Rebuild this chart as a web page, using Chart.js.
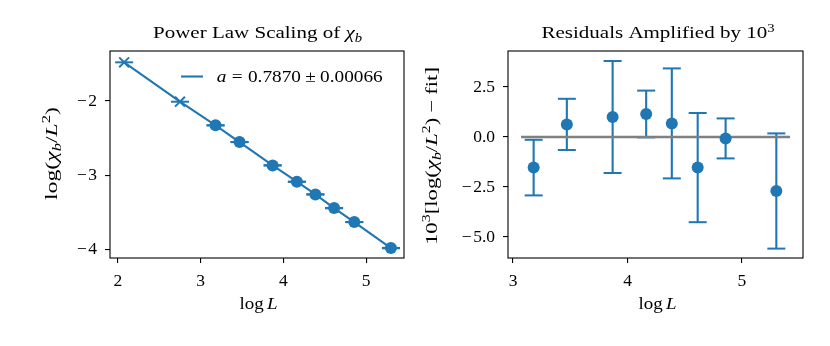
<!DOCTYPE html>
<html>
<head>
<meta charset="utf-8">
<script src="https://cdn.jsdelivr.net/npm/chart.js@4.4.1/dist/chart.umd.min.js"></script>
<style>
  html, body { margin: 0; padding: 0; background: #fff; }
  #wrap { position: relative; width: 830px; height: 346px; overflow: hidden; }
  canvas { position: absolute; top: 0; }
  #c1 { left: 0; }
  #c2 { left: 415px; }
</style>
</head>
<body>
<div id="wrap">
  <canvas id="c1" width="415" height="346"></canvas>
  <canvas id="c2" width="415" height="346"></canvas>
</div>
<script>
// ---------------- data ----------------
const logLExcluded   = [2.075, 2.750];
const logChiExcluded = [-1.477, -2.009];
const logL           = [3.180, 3.470, 3.870, 4.163, 4.387, 4.613, 4.857, 5.300];
const logChi         = [-2.328, -2.554, -2.869, -3.090, -3.261, -3.446, -3.635, -3.986];
const residual       = [-1.53, 0.63, 1.00, 1.15, 0.68, -1.53, -0.07, -2.70];
const residualErr    = [1.39, 1.28, 2.80, 1.17, 2.75, 2.73, 1.00, 2.88];
const fitLineX       = [3.07, 5.42];
const fitLineY       = [0, 0];
const leftXTicks     = [2, 3, 4, 5];
const leftYTicks     = [-4, -3, -2];
const rightXTicks    = [3, 4, 5];
const rightYTicks    = [-5, -2.5, 0, 2.5];

// ---------------- style ----------------
const BLUE = '#1f77b4';
const GRAY = '#808080';
const SERIF = '"Liberation Serif", "DejaVu Serif", serif';
const TICK_SIZE = 17.5;
const LABEL_SIZE = 16.5;
const TITLE_SIZE = 17;

function fmtMinus(s) { return String(s).replace('-', '\u2212\u200a'); }

// rich text: segments [text, flags] (i=italic, b=subscript, p=superscript) or a number = gap in em
function segFont(flags, size) {
  const s = (flags.includes('b') || flags.includes('p')) ? size * 0.7 : size;
  return { font: (flags.includes('i') ? 'italic ' : '') + s.toFixed(2) + 'px ' + SERIF,
           dy: flags.includes('b') ? size * 0.22 : (flags.includes('p') ? -size * 0.4 : 0) };
}
function richWidth(ctx, segs, size) {
  let w = 0;
  for (const seg of segs) {
    if (typeof seg === 'number') { w += seg * size; continue; }
    ctx.font = segFont(seg[1], size).font; w += ctx.measureText(seg[0]).width;
  }
  return w;
}
function drawRich(ctx, segs, x, y, size, align, rotate, targetW) {
  ctx.save();
  ctx.fillStyle = '#000';
  ctx.textBaseline = 'alphabetic';
  ctx.textAlign = 'left';
  ctx.translate(x, y);
  if (rotate) ctx.rotate(-Math.PI / 2);
  const w = richWidth(ctx, segs, size);
  const sx = targetW ? targetW / w : 1;
  ctx.scale(sx, 1);
  let cx = align === 'center' ? -w / 2 : 0;
  for (const seg of segs) {
    if (typeof seg === 'number') { cx += seg * size; continue; }
    const sf = segFont(seg[1], size);
    ctx.font = sf.font;
    ctx.fillText(seg[0], cx, sf.dy);
    cx += ctx.measureText(seg[0]).width;
  }
  ctx.restore();
}

const boxPlugin = {
  id: 'box',
  afterDatasetsDraw(chart) {
    const { ctx, chartArea: a } = chart;
    ctx.save();
    ctx.strokeStyle = '#000';
    ctx.lineWidth = 1.1;
    ctx.strokeRect(a.left, a.top, a.right - a.left, a.bottom - a.top);
    ctx.restore();
  }
};

function linScale(min, max, ticks, fmt, isX, fitSize) {
  return {
    type: 'linear',
    min: min, max: max,
    afterBuildTicks(s) { s.ticks = ticks.map(v => ({ value: v })); },
    afterFit(s) { if (isX) s.height = fitSize; else s.width = fitSize; },
    border: { display: false },
    grid: { display: true, drawOnChartArea: false, drawTicks: true, tickLength: 5, color: '#000', lineWidth: 1.1 },
    ticks: {
      color: '#000',
      font: { family: SERIF, size: TICK_SIZE },
      padding: 8,
      maxRotation: 0,
      autoSkip: false,
      callback: v => fmt(v)
    }
  };
}

// ---------------- left chart ----------------
const leftLinePts = logLExcluded.map((x, i) => ({ x, y: logChiExcluded[i] }))
  .concat(logL.map((x, i) => ({ x, y: logChi[i] })));
const leftCaps = [];
logL.forEach((x, i) => {
  leftCaps.push({ x, y: logChi[i] + residualErr[i] / 1000 });
  leftCaps.push({ x, y: logChi[i] - residualErr[i] / 1000 });
});
logLExcluded.forEach((x, i) => leftCaps.push({ x, y: logChiExcluded[i] }));

const leftText = {
  id: 'leftText',
  afterDraw(chart) {
    const ctx = chart.ctx;
    drawRich(ctx, [['Power Law Scaling of ', ''], ['\u03c7', 'i'], ['b', 'ib']], 257.5, 38.3, TITLE_SIZE, 'center', false, 209);
    drawRich(ctx, [['log', ''], 0.17, ['L', 'i']], 258.5, 308.5, LABEL_SIZE, 'center', false, 38);
    drawRich(ctx, [['log(', ''], ['\u03c7', 'i'], ['b', 'ib'], ['/', ''], ['L', 'i'], ['2', 'p'], [')', '']],
      57, 153.5, LABEL_SIZE, 'center', true, 93);
    // legend
    ctx.save();
    ctx.strokeStyle = BLUE; ctx.lineWidth = 2.1;
    ctx.beginPath(); ctx.moveTo(181, 76.5); ctx.lineTo(203, 76.5); ctx.stroke();
    ctx.restore();
    drawRich(ctx, [['a', 'i'], 0.278, ['=', ''], 0.278, ['0.7870', ''], 0.222, ['\u00b1', ''], 0.222, ['0.00066', '']],
      216.7, 82, LABEL_SIZE, 'left', false, 166);
  }
};

new Chart(document.getElementById('c1'), {
  type: 'scatter',
  data: {
    datasets: [
      { type: 'line', data: leftLinePts, borderColor: BLUE, borderWidth: 2.1, pointRadius: 0, fill: false, order: 4 },
      { data: leftCaps, pointStyle: 'line', pointRadius: 9, pointBorderWidth: 2, pointBorderColor: BLUE, pointBackgroundColor: BLUE, borderColor: BLUE, order: 3 },
      { data: logLExcluded.map((x, i) => ({ x, y: logChiExcluded[i] })), pointStyle: 'crossRot', pointRadius: 7, pointBorderWidth: 2, pointBorderColor: BLUE, borderColor: BLUE, order: 2 },
      { data: logL.map((x, i) => ({ x, y: logChi[i] })), pointStyle: 'circle', pointRadius: 6, pointBorderWidth: 0, pointBackgroundColor: BLUE, backgroundColor: BLUE, borderColor: BLUE, order: 1 }
    ]
  },
  options: {
    responsive: false,
    animation: false,
    events: [],
    devicePixelRatio: 1,
    layout: { padding: { left: 0, top: 51, right: 10, bottom: 0 } },
    plugins: { legend: { display: false }, tooltip: { enabled: false } },
    scales: {
      x: linScale(1.904, 5.458, leftXTicks, v => String(v), true, 88),
      y: linScale(-4.12, -1.324, leftYTicks, v => fmtMinus(v), false, 110)
    }
  },
  plugins: [boxPlugin, leftText]
});

// ---------------- right chart ----------------
const errSegs = [];
logL.forEach((x, i) => {
  errSegs.push({ x, y: residual[i] - residualErr[i] });
  errSegs.push({ x, y: residual[i] + residualErr[i] });
  errSegs.push({ x, y: null });
});
const rightCaps = [];
logL.forEach((x, i) => {
  rightCaps.push({ x, y: residual[i] - residualErr[i] });
  rightCaps.push({ x, y: residual[i] + residualErr[i] });
});

const rightText = {
  id: 'rightText',
  afterDraw(chart) {
    const ctx = chart.ctx;
    drawRich(ctx, [['Residuals Amplified by 10', ''], ['3', 'p']], 658 - 415, 38.3, TITLE_SIZE, 'center', false, 233);
    drawRich(ctx, [['log', ''], 0.17, ['L', 'i']], 657.5 - 415, 308.5, LABEL_SIZE, 'center', false, 38);
    drawRich(ctx, [['10', ''], ['3', 'p'], ['[log(', ''], ['\u03c7', 'i'], ['b', 'ib'], ['/', ''], ['L', 'i'], ['2', 'p'], [')', ''], 0.222, ['\u2212', ''], 0.222, ['fit]', '']],
      437 - 415, 156, LABEL_SIZE, 'center', true, 178);
  }
};

new Chart(document.getElementById('c2'), {
  type: 'scatter',
  data: {
    datasets: [
      { type: 'line', data: errSegs, borderColor: BLUE, borderWidth: 2.1, pointRadius: 0, fill: false, spanGaps: false, order: 5 },
      { data: rightCaps, pointStyle: 'line', pointRadius: 9, pointBorderWidth: 2, pointBorderColor: BLUE, borderColor: BLUE, order: 4 },
      { type: 'line', data: fitLineX.map((x, i) => ({ x, y: fitLineY[i] })), borderColor: GRAY, borderWidth: 2.5, pointRadius: 0, fill: false, order: 2 },
      { data: logL.map((x, i) => ({ x, y: residual[i] })), pointStyle: 'circle', pointRadius: 6, pointBorderWidth: 0, pointBackgroundColor: BLUE, backgroundColor: BLUE, borderColor: BLUE, order: 1 }
    ]
  },
  options: {
    responsive: false,
    animation: false,
    events: [],
    devicePixelRatio: 1,
    layout: { padding: { left: 0, top: 51, right: 27, bottom: 0 } },
    plugins: { legend: { display: false }, tooltip: { enabled: false } },
    scales: {
      x: linScale(2.956, 5.533, rightXTicks, v => String(v), true, 88),
      y: linScale(-6.05, 4.3, rightYTicks, v => fmtMinus(Number(v).toFixed(1)), false, 93)
    }
  },
  plugins: [boxPlugin, rightText]
});
</script>
</body>
</html>
